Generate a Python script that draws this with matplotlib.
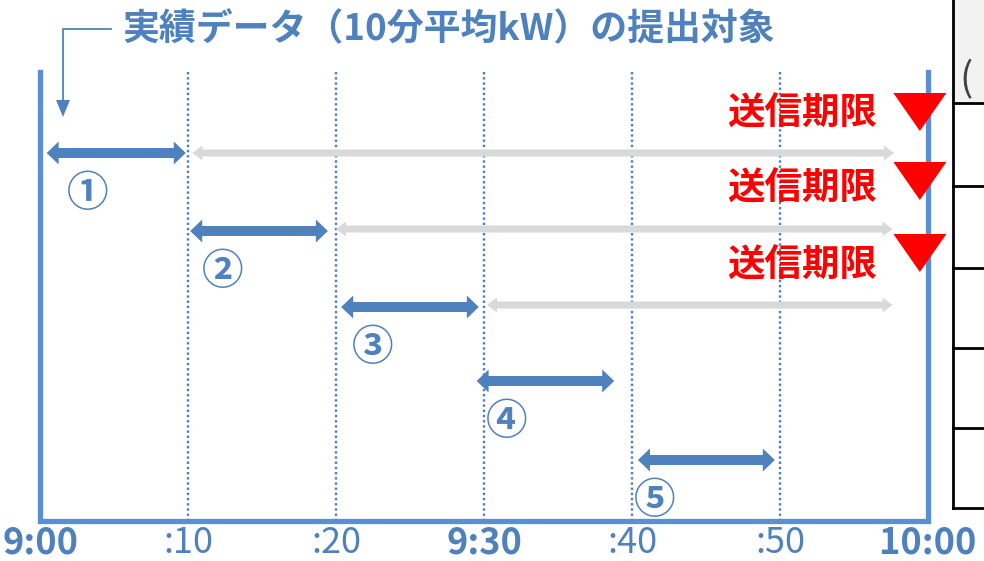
import numpy as np
import matplotlib
matplotlib.use("Agg")
import matplotlib.pyplot as plt

plt.rcParams['font.family'] = ['Noto Sans CJK JP', 'DejaVu Sans']

# data (minutes after 9:00)
tick_minutes = [0, 10, 20, 30, 40, 50, 60]
tick_labels = ['9:00', ':10', ':20', '9:30', ':40', ':50', '10:00']
tick_bold = [True, False, False, True, False, False, True]

period_labels = ['①', '②', '③', '④', '⑤']
blue_start = [0.45, 10.15, 20.35, 29.5, 40.4]
blue_end = [9.85, 19.45, 29.65, 38.8, 49.65]

gray_start = [10.3, 20.0, 30.2]
gray_end = [57.7, 57.6, 57.6]

deadline_text = '送信期限'
deadline_minute = 59.45
title_text = '実績データ（10分平均kW）の提出対象'

# layout (pixel rows, top = 0)
row_y = [153, 231, 307, 381, 460]
gray_y = [153, 229, 305]
label_dx = [2.8, 2.2, 2.1, 2.05, 1.1]
label_dy = 41
tri_y = [93, 162, 234]
deadline_y = [113, 188, 265]
table_rows = [103, 186, 268, 348, 428, 508]

BLUE = '#4F81BD'
FRAME = '#5B8FD5'
DOT = '#4A7EC8'
GRAY = '#D9D9D9'
RED = '#FF0000'

px_per_min = 14.8
x0_px = 40


def px(m):
    return m / px_per_min


def double_arrow(ax, xa, xb, y, shaft, head_w, head_len, color):
    hl = px(head_len)
    xs = [xa, xa + hl, xa + hl, xb - hl, xb - hl, xb, xb - hl, xb - hl, xa + hl, xa + hl]
    ys = [y, y - head_w / 2, y - shaft / 2, y - shaft / 2, y - head_w / 2, y,
          y + head_w / 2, y + shaft / 2, y + shaft / 2, y + head_w / 2]
    ax.fill(xs, ys, color=color, lw=0, zorder=3)


fig = plt.figure(figsize=(9.84, 5.61), dpi=100)
ax = fig.add_axes([0, 0, 1, 1])
ax.set_xlim(-x0_px / px_per_min, (984 - x0_px) / px_per_min)
ax.set_ylim(561, 0)
ax.axis('off')

# frame
ax.plot([0, 0, 60, 60], [72, 521, 521, 72], color=FRAME, lw=3.8,
        solid_joinstyle='miter', zorder=2)

# dotted grid
for m in tick_minutes[1:-1]:
    ax.plot([m, m], [72, 519], color=DOT, lw=1.7, ls=(0, (1, 1.2)), zorder=1)

# gray arrows
for xa, xb, y in zip(gray_start, gray_end, gray_y):
    double_arrow(ax, xa, xb, y, 7, 15, 10, GRAY)

# blue arrows + labels
for i, (xa, xb, y) in enumerate(zip(blue_start, blue_end, row_y)):
    double_arrow(ax, xa, xb, y, 10, 23, 12, BLUE)
    ax.text(xa + label_dx[i], y + label_dy, period_labels[i], color=BLUE,
            fontsize=30, fontweight='bold', ha='center', va='center', zorder=4)

# deadlines
for ty, dy in zip(tri_y, deadline_y):
    tx = [deadline_minute - px(26.5), deadline_minute + px(26.5), deadline_minute]
    ax.fill(tx, [ty, ty, ty + 38], color=RED, lw=0, zorder=5)
    ax.text(deadline_minute - px(43), dy, deadline_text, color=RED, fontsize=27,
            fontweight='bold', ha='right', va='center', zorder=5)

# title and connector
ax.text(px(122 - x0_px), 30, title_text, color=BLUE, fontsize=26.6,
        fontweight='bold', ha='left', va='center')
ax.plot([px(111 - x0_px), px(63 - x0_px), px(63 - x0_px)], [29, 29, 102],
        color=BLUE, lw=1.3)
ax.fill([px(56 - x0_px), px(70 - x0_px), px(63 - x0_px)], [100, 100, 117],
        color=BLUE, lw=0)

# time labels
for m, lab, b in zip(tick_minutes, tick_labels, tick_bold):
    ax.text(m, 553, lab, color=BLUE, fontsize=26,
            fontweight='bold' if b else 'normal', ha='center', va='baseline')

# partial table at right
tx0 = px(953 - x0_px)
tx1 = px(990 - x0_px)
ax.fill([tx0, tx1, tx1, tx0], [0, 0, table_rows[0], table_rows[0]],
        color='#F2F2F2', lw=0, zorder=0)
ax.plot([tx0, tx0], [-5, table_rows[-1]], color='black', lw=2, zorder=6)
for r in table_rows:
    ax.plot([tx0, tx1], [r, r], color='black', lw=2, zorder=6)
ax.text(px(959 - x0_px), 80, '(', color='#404040', fontsize=28,
        ha='left', va='center')

fig.savefig('out.png', dpi=100)
